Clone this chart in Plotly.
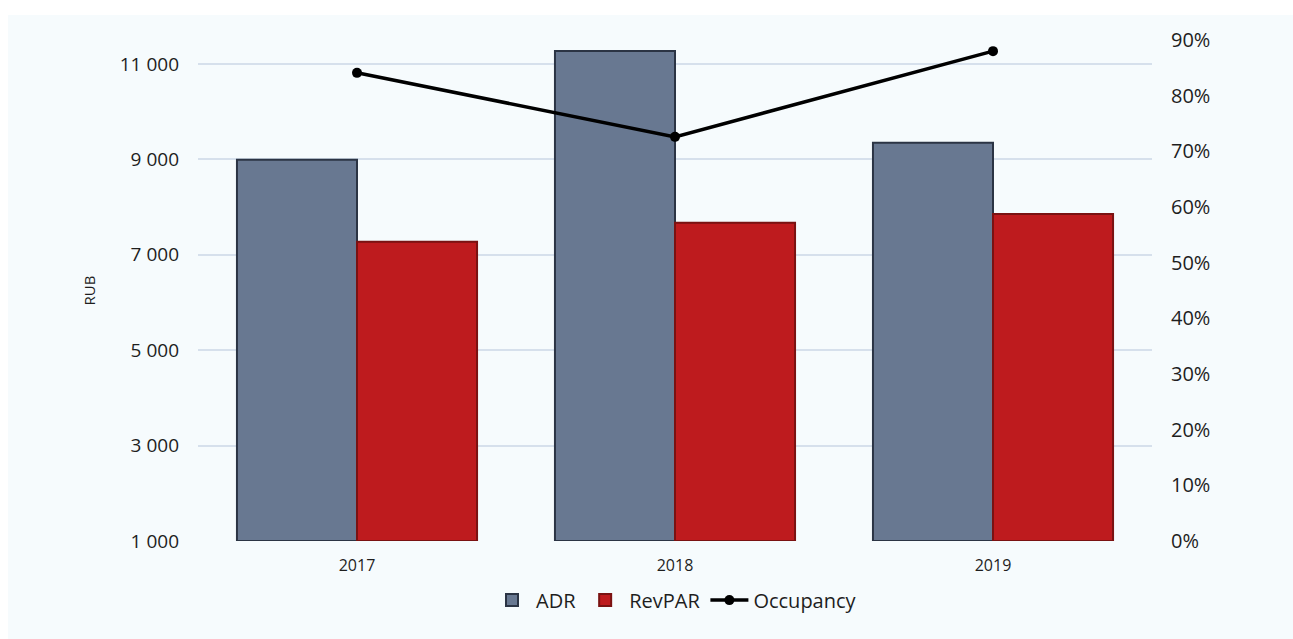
import plotly.graph_objects as go

years = ["2017", "2018", "2019"]
adr = [8990, 11270, 9345]
revpar = [7270, 7670, 7855]
occupancy = [0.841, 0.726, 0.880]

left_tickvals = [1000, 3000, 5000, 7000, 9000, 11000]
left_ticktext = ["1 000", "3 000", "5 000", "7 000", "9 000", "11 000"]
right_tickvals = [0, 0.1, 0.2, 0.3, 0.4, 0.5, 0.6, 0.7, 0.8, 0.9]
right_ticktext = ["0%", "10%", "20%", "30%", "40%", "50%", "60%", "70%", "80%", "90%"]

W, H = 1293, 639
L, R, T, B = 198, 141, 40, 98
pw, ph = W - L - R, H - T - B

FONT = "Open Sans"
TXT = "#1e1e1e"

fig = go.Figure()
fig.add_trace(go.Bar(
    x=years, y=[v - 1000 for v in adr], base=1000, name="ADR",
    marker=dict(color="#687891", line=dict(color="#2b3444", width=2)),
))
fig.add_trace(go.Bar(
    x=years, y=[v - 1000 for v in revpar], base=1000, name="RevPAR",
    marker=dict(color="#be1b1e", line=dict(color="#7a1212", width=2)),
))
fig.add_trace(go.Scatter(
    x=years, y=occupancy, name="Occupancy", yaxis="y2",
    mode="lines+markers",
    line=dict(color="#000000", width=3.5),
    marker=dict(color="#000000", size=10),
))

fig.update_layout(
    width=W, height=H,
    margin=dict(l=L, r=R, t=T, b=B, pad=0),
    paper_bgcolor="#ffffff",
    plot_bgcolor="rgba(0,0,0,0)",
    font=dict(family=FONT, color=TXT),
    barmode="group", bargap=0.245, bargroupgap=0,
    showlegend=True,
    legend=dict(orientation="h", x=0.5, xanchor="center", y=-0.118, yanchor="middle",
                font=dict(size=20, color=TXT), itemwidth=38, traceorder="normal",
                bgcolor="rgba(0,0,0,0)"),
    xaxis=dict(showgrid=False, showline=False, zeroline=False,
               tickfont=dict(size=16, color=TXT), ticks="", ticklabelstandoff=13),
    yaxis=dict(range=[1000, 11500], tickvals=left_tickvals, ticktext=left_ticktext,
               showgrid=True, gridcolor="#d6e0ec", gridwidth=2, zeroline=False,
               showline=False, tickfont=dict(size=19, color=TXT), ticklabelstandoff=18,
               title=dict(text="RUB", font=dict(size=15, color=TXT), standoff=20)),
    yaxis2=dict(range=[0, 0.9], tickvals=right_tickvals, ticktext=right_ticktext,
                overlaying="y", side="right", showgrid=False, zeroline=False,
                showline=False, tickfont=dict(size=20, color=TXT), ticklabelstandoff=18),
    shapes=[dict(type="rect", xref="paper", yref="paper",
                 x0=(8 - L) / pw, x1=(W - L) / pw,
                 y0=-B / ph, y1=(H - B - 15) / ph,
                 fillcolor="#f6fbfd", line=dict(width=0), layer="below")],
)

fig.write_html("out.html")
